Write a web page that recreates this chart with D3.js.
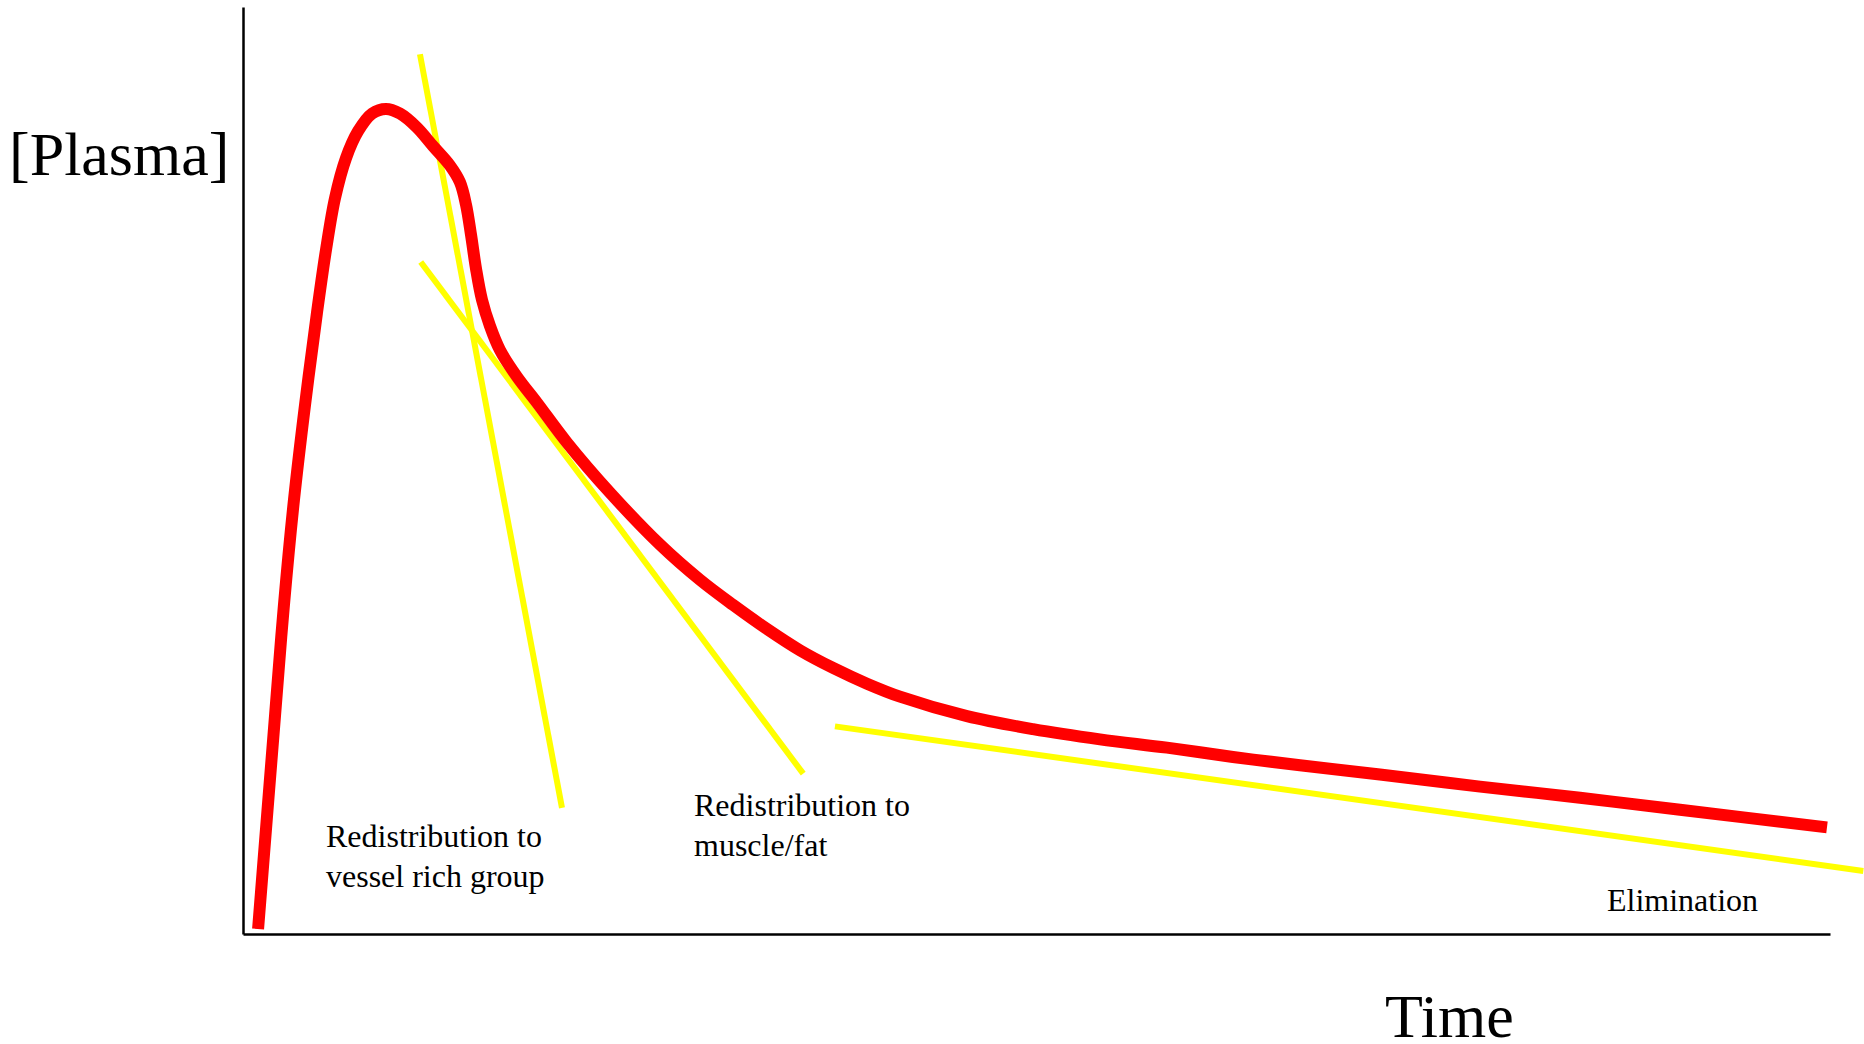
<!DOCTYPE html>
<html>
<head>
<meta charset="utf-8">
<script src="https://cdn.jsdelivr.net/npm/d3@7"></script>
<style>
  html, body { margin: 0; padding: 0; background: #fff; }
  svg { display: block; }
  text { font-family: "Liberation Serif", "Times New Roman", serif; fill: #000; }
</style>
</head>
<body>
<svg width="1864" height="1044"></svg>
<script>
// plasma concentration curve (arbitrary units)
var time = [0.95, 2.02, 2.58, 3.21, 3.91, 4.66, 5.23, 5.80, 6.49, 7.25, 8.13, 9.01, 9.89, 10.96, 11.97, 13.04,
            13.67, 14.05, 14.37, 14.68, 15.06, 15.56, 16.19, 17.27, 18.53, 20.42, 23.13, 26.28, 28.80, 30.88,
            33.02, 35.10, 37.18, 39.32, 41.40, 45.62, 49.78, 54.00, 58.22, 62.38, 66.60, 71.64, 77.95, 84.25,
            90.55, 99.81];
var plasma = [0.54, 23.6, 35.5, 46.8, 57.1, 67.0, 73.8, 79.4, 83.7, 86.6, 88.5, 89.0, 88.5, 87.0, 85.0, 82.9,
              81.1, 78.7, 75.4, 71.8, 68.4, 65.6, 63.0, 60.1, 57.3, 53.0, 47.6, 42.0, 38.2, 35.5,
              32.9, 30.6, 28.7, 27.0, 25.6, 23.5, 22.1, 21.0, 20.1, 19.1, 18.2, 17.2, 15.9, 14.7,
              13.4, 11.5];

// tangent lines for each phase: [t0, c0, t1, c1]
var phases = ["vessel rich group", "muscle/fat", "elimination"];
var tangents = [
    [11.15, 94.9, 20.1, 13.6],
    [11.2, 72.5, 35.3, 17.3],
    [37.3, 22.4, 102.1, 6.8]
];

var labels = [
    ["Redistribution to", "vessel rich group"],
    ["Redistribution to", "muscle/fat"],
    ["Elimination"]
];

function main(){
    var svg = d3.select("svg");

    var x = d3.scaleLinear().domain([0, 100]).range([243, 1830]),
        y = d3.scaleLinear().domain([0, 100]).range([934, 7]);

    // axes with no ticks, only the domain lines
    svg.append("g")
        .attr("transform", "translate(0,934)")
        .call(d3.axisBottom(x).tickValues([]).tickSizeOuter(0))
        .select(".domain").attr("stroke", "#000").attr("stroke-width", 2.5);
    svg.append("g")
        .attr("transform", "translate(243,0)")
        .call(d3.axisLeft(y).tickValues([]).tickSizeOuter(0))
        .select(".domain").attr("stroke", "#000").attr("stroke-width", 2.5);

    // tangents
    svg.selectAll(".tangent")
        .data(tangents)
        .enter()
        .append("line")
        .attr("class", "tangent")
        .attr("x1", function(d){ return x(d[0]) })
        .attr("y1", function(d){ return y(d[1]) })
        .attr("x2", function(d){ return x(d[2]) })
        .attr("y2", function(d){ return y(d[3]) })
        .attr("stroke", "#ffff00")
        .attr("stroke-width", 6);

    var pts = time.map(function(t, i){ return [t, plasma[i]] });
    var line = d3.line()
        .x(function(d){ return x(d[0]) })
        .y(function(d){ return y(d[1]) })
        .curve(d3.curveCatmullRom.alpha(0.5));

    svg.append("path")
        .datum(pts)
        .attr("d", line)
        .attr("fill", "none")
        .attr("stroke", "#ff0000")
        .attr("stroke-width", 12);

    // annotation text
    var labelPos = [[326, 847], [694, 816], [1607, 911]];
    labels.forEach(function(lines, i){
        var t = svg.append("text")
            .attr("x", labelPos[i][0])
            .attr("y", labelPos[i][1])
            .style("font-size", "32px");
        lines.forEach(function(s, j){
            t.append("tspan")
                .attr("x", labelPos[i][0])
                .attr("dy", j == 0 ? 0 : 39.5)
                .text(s);
        });
    });

    svg.append("text")
        .attr("x", 9).attr("y", 175)
        .style("font-size", "62px")
        .text("[Plasma]");
    svg.append("text")
        .attr("x", 1385).attr("y", 1037)
        .style("font-size", "62px")
        .text("Time");
}
main();
</script>
</body>
</html>
